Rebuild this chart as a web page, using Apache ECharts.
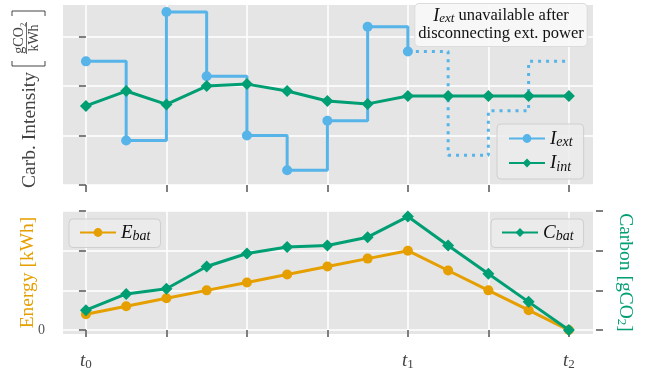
<!DOCTYPE html>
<html><head><meta charset="utf-8">
<script src="https://cdn.jsdelivr.net/npm/echarts@6/dist/echarts.min.js"></script>
<style>html,body{margin:0;padding:0;background:#fff}#c{width:646px;height:371px}</style>
</head><body><div id="c"></div>
<script>
// ---- data ----
const steps = [0,1,2,3,4,5,6,7,8,9,10,11,12];
const iExtSteps = [0,1,2,3,4,5,6,7,8];
const iExt = [2.5,0.9,3.5,2.2,1.0,0.3,1.3,3.2,2.7];
const iExtUnavailSteps = [8,9,10,11,12];
const iExtUnavail = [2.7,0.6,1.5,2.5,2.5];
const iInt = [1.6,1.9,1.63,2.0,2.04,1.9,1.7,1.64,1.8,1.8,1.8,1.8,1.8];
const eBat = [0.4,0.6,0.8,1.0,1.2,1.4,1.6,1.8,2.0,1.5,1.0,0.5,0];
const cBat = [0.5,0.91,1.04,1.6,1.93,2.09,2.13,2.34,2.86,2.13,1.42,0.71,0];
const xTicks = [0,2,4,6,8,10,12];
const xLabelPos = [0,8,12];
const xLabelSub = ['0','1','2'];
const yTicks = [0,1,2,3];
const yLabelBottom = [0];

const SERIF = "'Liberation Serif','DejaVu Serif',serif";
const TXT = '#444';
const BLUE = '#56B4E9', GREEN = '#009E73', ORANGE = '#E69F00';
const pair = (xs, ys) => xs.map((x, i) => [x, ys[i]]);

const subRich = {
  m: {fontFamily: SERIF, fontStyle: 'italic', fontSize: 19, lineHeight: 22, color: '#111'},
  s: {fontFamily: SERIF, fontStyle: 'italic', fontSize: 14, lineHeight: 12, verticalAlign: 'bottom', color: '#111'}
};
const legendFmt = name => { const p = name.split('_'); return '{m|' + p[0] + '}{s|' + p[1] + '}'; };

const chart = echarts.init(document.getElementById('c'), null, {renderer: 'canvas'});

const tickStyle = {show: true, length: 7, inside: false, lineStyle: {color: '#555', width: 1.5}};
const split = {show: true, lineStyle: {color: '#fff', width: 1.5}};

const legendBase = {
  orient: 'vertical', itemWidth: 36, itemHeight: 11, itemGap: 4,
  backgroundColor: 'rgba(236,236,236,0.85)', borderColor: '#cfcfcf', borderWidth: 1, borderRadius: 4,
  formatter: legendFmt, textStyle: {rich: subRich, fontFamily: SERIF}
};

chart.setOption({
  animation: false,
  grid: [
    {left: 63, top: 5, width: 530, height: 180, show: true, backgroundColor: '#e5e5e5', borderWidth: 0},
    {left: 63, top: 211, width: 530, height: 125, show: true, backgroundColor: '#e5e5e5', borderWidth: 0}
  ],
  xAxis: [
    {gridIndex: 0, type: 'value', min: -0.57, max: 12.6, offset: 3,
     axisLine: {show: false}, axisTick: Object.assign({customValues: xTicks}, tickStyle),
     axisLabel: {show: false}, splitLine: split},
    {gridIndex: 1, type: 'value', min: -0.57, max: 12.6, offset: 3,
     axisLine: {show: false}, axisTick: Object.assign({customValues: xTicks}, tickStyle),
     axisLabel: {show: true, customValues: xLabelPos, margin: 14,
       formatter: v => '{t|t}{s|' + xLabelSub[xLabelPos.indexOf(v)] + '}',
       rich: {
         t: {fontFamily: SERIF, fontStyle: 'italic', fontSize: 19, lineHeight: 20, color: TXT},
         s: {fontFamily: SERIF, fontSize: 13, lineHeight: 10, verticalAlign: 'bottom', color: TXT}
       }},
     splitLine: split}
  ],
  yAxis: [
    {gridIndex: 0, type: 'value', min: 0, max: 3.64, offset: 3,
     axisLine: {show: false}, axisTick: Object.assign({customValues: yTicks}, tickStyle),
     axisLabel: {show: false}, splitLine: split},
    {gridIndex: 1, type: 'value', min: -0.1, max: 3, offset: 3,
     axisLine: {show: false}, axisTick: Object.assign({customValues: yTicks}, tickStyle),
     axisLabel: {show: true, customValues: yLabelBottom, margin: 15, color: '#555', fontFamily: SERIF, fontSize: 14},
     splitLine: split,
     name: 'Energy [kWh]', nameLocation: 'middle', nameGap: 22, nameMoveOverlap: false,
     nameTextStyle: {color: ORANGE, fontFamily: SERIF, fontSize: 19.5}},
    {gridIndex: 1, type: 'value', min: -0.1, max: 3, offset: 3, position: 'right',
     axisLine: {show: false}, axisTick: Object.assign({customValues: yTicks}, tickStyle),
     axisLabel: {show: false}, splitLine: {show: false},
     name: 'Carbon [gCO{s|2}]', nameLocation: 'middle', nameGap: 19, nameRotate: -90, nameMoveOverlap: false,
     nameTextStyle: {color: GREEN, fontFamily: SERIF, fontSize: 19.5,
       rich: {s: {color: GREEN, fontFamily: SERIF, fontSize: 13, lineHeight: 10, verticalAlign: 'bottom'}}}}
  ],
  legend: [
    Object.assign({}, legendBase, {data: ['I_ext', 'I_int'], left: 497, top: 124, padding: [5, 11]}),
    Object.assign({}, legendBase, {data: ['E_bat'], left: 69, top: 219, padding: [4, 10]}),
    Object.assign({}, legendBase, {data: ['C_bat'], left: 491, top: 219, padding: [4, 10]})
  ],
  graphic: [
    {type: 'group', x: 33, y: 96, rotation: Math.PI / 2, children: [
      {type: 'text', x: 24, y: -3, style: {text: 'Carb. Intensity', fill: TXT, font: '19.5px ' + SERIF,
        textAlign: 'right', textVerticalAlign: 'middle', align: 'right', verticalAlign: 'middle'}},
      {type: 'polyline', shape: {points: [[35,-21],[30,-21],[30,12],[35,12]]}, style: {stroke: TXT, lineWidth: 1, fill: null}},
      {type: 'polyline', shape: {points: [[80,-21],[85,-21],[85,12],[80,12]]}, style: {stroke: TXT, lineWidth: 1, fill: null}},
      {type: 'text', x: 58, y: -14, style: {text: 'gCO₂', fill: TXT, font: '14px ' + SERIF,
        textAlign: 'center', textVerticalAlign: 'middle', align: 'center', verticalAlign: 'middle'}},
      {type: 'line', shape: {x1: 42, y1: -6.5, x2: 74, y2: -6.5}, style: {stroke: TXT, lineWidth: 0.8}},
      {type: 'text', x: 58, y: 1.5, style: {text: 'kWh', fill: TXT, font: '14px ' + SERIF,
        textAlign: 'center', textVerticalAlign: 'middle', align: 'center', verticalAlign: 'middle'}}
    ]},
    {type: 'text', x: 501, y: 4, z: 100, style: {
      text: '{m|I}{s|ext} unavailable after\ndisconnecting ext. power',
      fill: '#111', font: '16.5px ' + SERIF, textAlign: 'center', align: 'center',
      backgroundColor: 'rgba(248,248,248,0.92)', borderColor: '#dcdcdc', borderWidth: 1, borderRadius: 4,
      padding: [3, 3], lineHeight: 18,
      rich: {
        m: {fontFamily: SERIF, fontStyle: 'italic', fontSize: 18, lineHeight: 18, fill: '#111'},
        s: {fontFamily: SERIF, fontStyle: 'italic', fontSize: 13, lineHeight: 10, verticalAlign: 'bottom', fill: '#111'}
      }}}
  ],
  series: [
    {name: 'I_ext', type: 'line', xAxisIndex: 0, yAxisIndex: 0, step: 'end',
     data: pair(iExtSteps, iExt), symbol: 'circle', symbolSize: 10,
     itemStyle: {color: BLUE}, lineStyle: {color: BLUE, width: 3}, z: 2},
    {name: 'I_ext unavailable', type: 'line', xAxisIndex: 0, yAxisIndex: 0, step: 'end',
     data: pair(iExtUnavailSteps, iExtUnavail), symbol: 'none',
     lineStyle: {color: BLUE, width: 3, type: [3, 5], cap: 'butt'}, z: 2},
    {name: 'I_int', type: 'line', xAxisIndex: 0, yAxisIndex: 0,
     data: pair(steps, iInt), symbol: 'diamond', symbolSize: [12, 12],
     itemStyle: {color: GREEN}, lineStyle: {color: GREEN, width: 3}, z: 3},
    {name: 'E_bat', type: 'line', xAxisIndex: 1, yAxisIndex: 1,
     data: pair(steps, eBat), symbol: 'circle', symbolSize: 10,
     itemStyle: {color: ORANGE}, lineStyle: {color: ORANGE, width: 3}, z: 2},
    {name: 'C_bat', type: 'line', xAxisIndex: 1, yAxisIndex: 2,
     data: pair(steps, cBat), symbol: 'diamond', symbolSize: [12, 12],
     itemStyle: {color: GREEN}, lineStyle: {color: GREEN, width: 3}, z: 3}
  ]
});
</script></body></html>
